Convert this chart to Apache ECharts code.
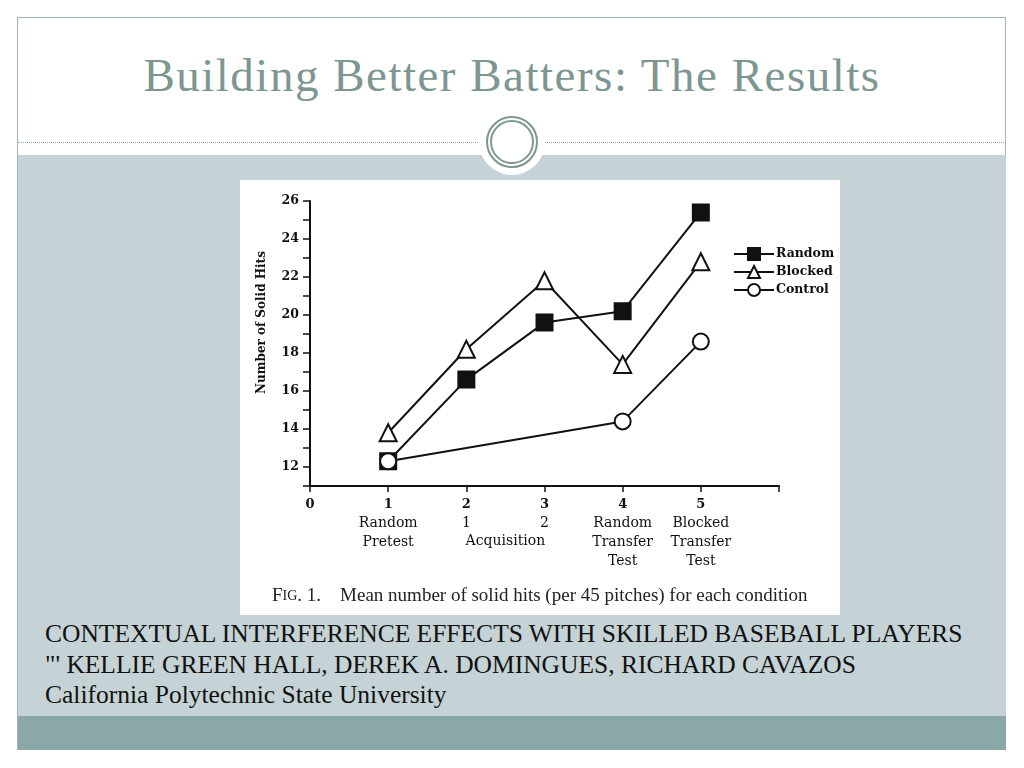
<!DOCTYPE html>
<html>
<head>
<meta charset="utf-8">
<script src="https://cdn.jsdelivr.net/npm/echarts@6/dist/echarts.min.js"></script>
<style>
  html, body { margin: 0; padding: 0; background: #fff; }
  body { width: 1024px; height: 768px; position: relative; overflow: hidden; }
  .frame { position: absolute; left: 17px; top: 17px; width: 989px; height: 733px; border: 1px solid #a3b5b3; box-sizing: border-box; }
  .title { position: absolute; left: 17px; width: 990px; top: 48px; text-align: center;
           font-family: "Liberation Serif", serif; font-size: 47px; letter-spacing: 1.5px; color: #7d9692; }
  .dots { position: absolute; top: 142px; height: 0; border-top: 1px dotted #9aabab; }
  .band { position: absolute; left: 18px; width: 988px; top: 155px; height: 561px; background: #c5d3d6; }
  .foot { position: absolute; left: 18px; width: 988px; top: 716px; height: 34px; background: #89a8a7; }
  .disc { position: absolute; left: 479px; top: 109px; width: 66px; height: 66px; border-radius: 50%; background: #fff; }
  .ring { position: absolute; border-radius: 50%; border: 2px solid #7d9692; box-sizing: border-box; }
  #chart { position: absolute; left: 240px; top: 180px; width: 600px; height: 435px; background: #fff; }
  .ref { position: absolute; left: 45px; top: 619px; font-family: "Liberation Serif", serif; font-size: 25.5px;
         line-height: 30.5px; color: #111; }
</style>
</head>
<body>
<div class="frame"></div>
<div class="title">Building Better Batters: The Results</div>
<div class="band"></div>
<div class="foot"></div>
<div class="dots" style="left:18px;width:462px"></div>
<div class="dots" style="left:545px;width:461px"></div>
<div class="disc"></div>
<div class="ring" style="left:486px;top:116px;width:52px;height:52px"></div>
<div class="ring" style="left:490px;top:120px;width:44px;height:44px"></div>
<div id="chart"></div>
<div class="ref">CONTEXTUAL INTERFERENCE EFFECTS WITH SKILLED BASEBALL PLAYERS<br>
"' KELLIE GREEN HALL, DEREK A. DOMINGUES, RICHARD CAVAZOS<br>
California Polytechnic State University</div>
<script>
// data
const seriesNames = ['Random', 'Blocked', 'Control'];
const randomHits = [[1, 12.3], [2, 16.6], [3, 19.6], [4, 20.2], [5, 25.4]];
const blockedHits = [[1, 13.8], [2, 18.2], [3, 21.8], [4, 17.4], [5, 22.8]];
const controlHits = [[1, 12.3], [4, 14.4], [5, 18.6]];
const xTickLabels = ['0', '1\nRandom\nPretest', '2\n1', '3\n2', '4\nRandom\nTransfer\nTest', '5\nBlocked\nTransfer\nTest', ''];
const groupLabel = 'Acquisition';
const yAxisTitle = 'Number of Solid Hits';

const serif = '"DejaVu Serif", serif';
const ink = '#111';

const chart = echarts.init(document.getElementById('chart'));

function xLabel(v) {
    const lines = (xTickLabels[v] || '').split('\n');
    if (!lines[0]) return '';
    return ['{n|' + lines[0] + '}'].concat(lines.slice(1)).join('\n');
}

const lineSeries = (name, data, symbol, fill, size) => ({
    name: name,
    type: 'line',
    data: data,
    symbol: symbol,
    symbolSize: size,
    lineStyle: { color: ink, width: 2 },
    itemStyle: { color: fill, borderColor: ink, borderWidth: 2 }
});

chart.setOption({
    animation: false,
    grid: { left: 70, right: 61, top: 21, bottom: 129 },
    legend: {
        data: seriesNames,
        orient: 'vertical',
        left: 488,
        top: 62,
        itemWidth: 40,
        itemHeight: 15,
        itemGap: 4,
        textStyle: { fontFamily: serif, fontWeight: 'bold', fontSize: 12.5, color: ink, padding: [0, 0, 0, -3] }
    },
    xAxis: {
        type: 'value',
        min: 0,
        max: 6,
        interval: 1,
        splitLine: { show: false },
        axisLine: { lineStyle: { color: ink, width: 2 } },
        axisTick: { length: 6, lineStyle: { color: ink, width: 1.5 } },
        axisLabel: {
            margin: 9,
            formatter: xLabel,
            fontFamily: serif,
            fontSize: 14,
            lineHeight: 19,
            color: ink,
            rich: { n: { fontFamily: serif, fontWeight: 'bold', fontSize: 13, lineHeight: 19, color: ink } }
        }
    },
    yAxis: {
        type: 'value',
        min: 11,
        max: 26,
        interval: 1,
        splitLine: { show: false },
        axisLine: { lineStyle: { color: ink, width: 2 } },
        axisTick: { length: 7, lineStyle: { color: ink, width: 1.5 } },
        axisLabel: {
            margin: 11,
            formatter: v => (v % 2 === 0 ? String(v) : ''),
            fontFamily: serif,
            fontWeight: 'bold',
            fontSize: 12.5,
            color: ink
        },
        name: yAxisTitle,
        nameLocation: 'middle',
        nameGap: 42,
        nameTextStyle: { fontFamily: serif, fontWeight: 'bold', fontSize: 12, color: ink, padding: [0, 0, 0, 42] }
    },
    series: [
        lineSeries(seriesNames[0], randomHits, 'rect', ink, 16),
        lineSeries(seriesNames[1], blockedHits, 'triangle', '#fff', 17),
        lineSeries(seriesNames[2], controlHits, 'circle', '#fff', 16)
    ]
});

const acq = chart.convertToPixel({ xAxisIndex: 0 }, 2.5);
chart.setOption({
    graphic: [
        {
            type: 'text',
            x: acq,
            y: 361,
            style: { text: groupLabel, fontFamily: serif, fontSize: 14, fill: ink, align: 'center', verticalAlign: 'middle' }
        },
        {
            type: 'text',
            x: 32,
            y: 416,
            style: {
                text: '{b|F}{s|IG}. 1.    Mean number of solid hits (per 45 pitches) for each condition',
                fontFamily: '"Liberation Serif", serif',
                fontSize: 19,
                fill: '#222',
                verticalAlign: 'middle',
                rich: {
                    b: { fontFamily: '"Liberation Serif", serif', fontSize: 19, fill: '#222' },
                    s: { fontFamily: '"Liberation Serif", serif', fontSize: 14, fill: '#222' }
                }
            }
        }
    ]
});
</script>
</body>
</html>
